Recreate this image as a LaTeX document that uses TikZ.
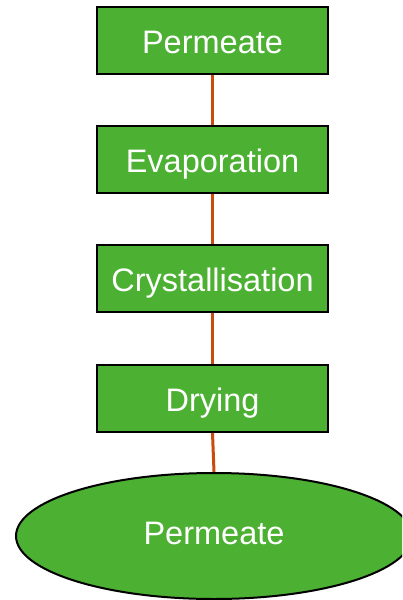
\documentclass[tikz,border=0pt]{standalone}
\usepackage{fontspec}
\setmainfont{Liberation Sans}
\usetikzlibrary{shapes.geometric}
\definecolor{boxgreen}{RGB}{76,176,51}
\definecolor{linkcol}{RGB}{200,76,14}
\begin{document}
\begin{tikzpicture}[x=1bp,y=-1bp,
  stepbox/.style={draw=black, line width=2bp, fill=boxgreen, rectangle,
    minimum width=231bp, minimum height=67bp, inner sep=0pt,
    text height=23.3bp, text depth=0pt,
    text=white, font=\fontsize{32.5bp}{38bp}\selectfont},
  endell/.style={draw=black, line width=2bp, fill=boxgreen, ellipse,
    minimum width=396bp, minimum height=126bp, inner sep=0pt,
    text height=23.3bp, text depth=0pt,
    text=white, font=\fontsize{32.5bp}{38bp}\selectfont},
  link/.style={draw=linkcol, line width=3bp}]
\clip (0,0) rectangle (402,600);
\fill[white] (0,0) rectangle (402,600);
\node[stepbox] (p1) at (212.5,40.5) {\raisebox{-1bp}{Permeate}};
\node[stepbox] (ev) at (212.5,159.5) {\raisebox{-1bp}{Evaporation}};
\node[stepbox] (cr) at (212.5,278.5) {\raisebox{-1bp}{Crystallisation}};
\node[stepbox] (dr) at (212.5,398.5) {\raisebox{-1bp}{Drying}};
\node[endell] (p2) at (214,536) {\raisebox{3.5bp}{Permeate}};
\draw[link] (p1.south) -- (ev.north);
\draw[link] (ev.south) -- (cr.north);
\draw[link] (cr.south) -- (dr.north);
\draw[link] (dr.south) -- (p2.north);
\end{tikzpicture}
\end{document}
